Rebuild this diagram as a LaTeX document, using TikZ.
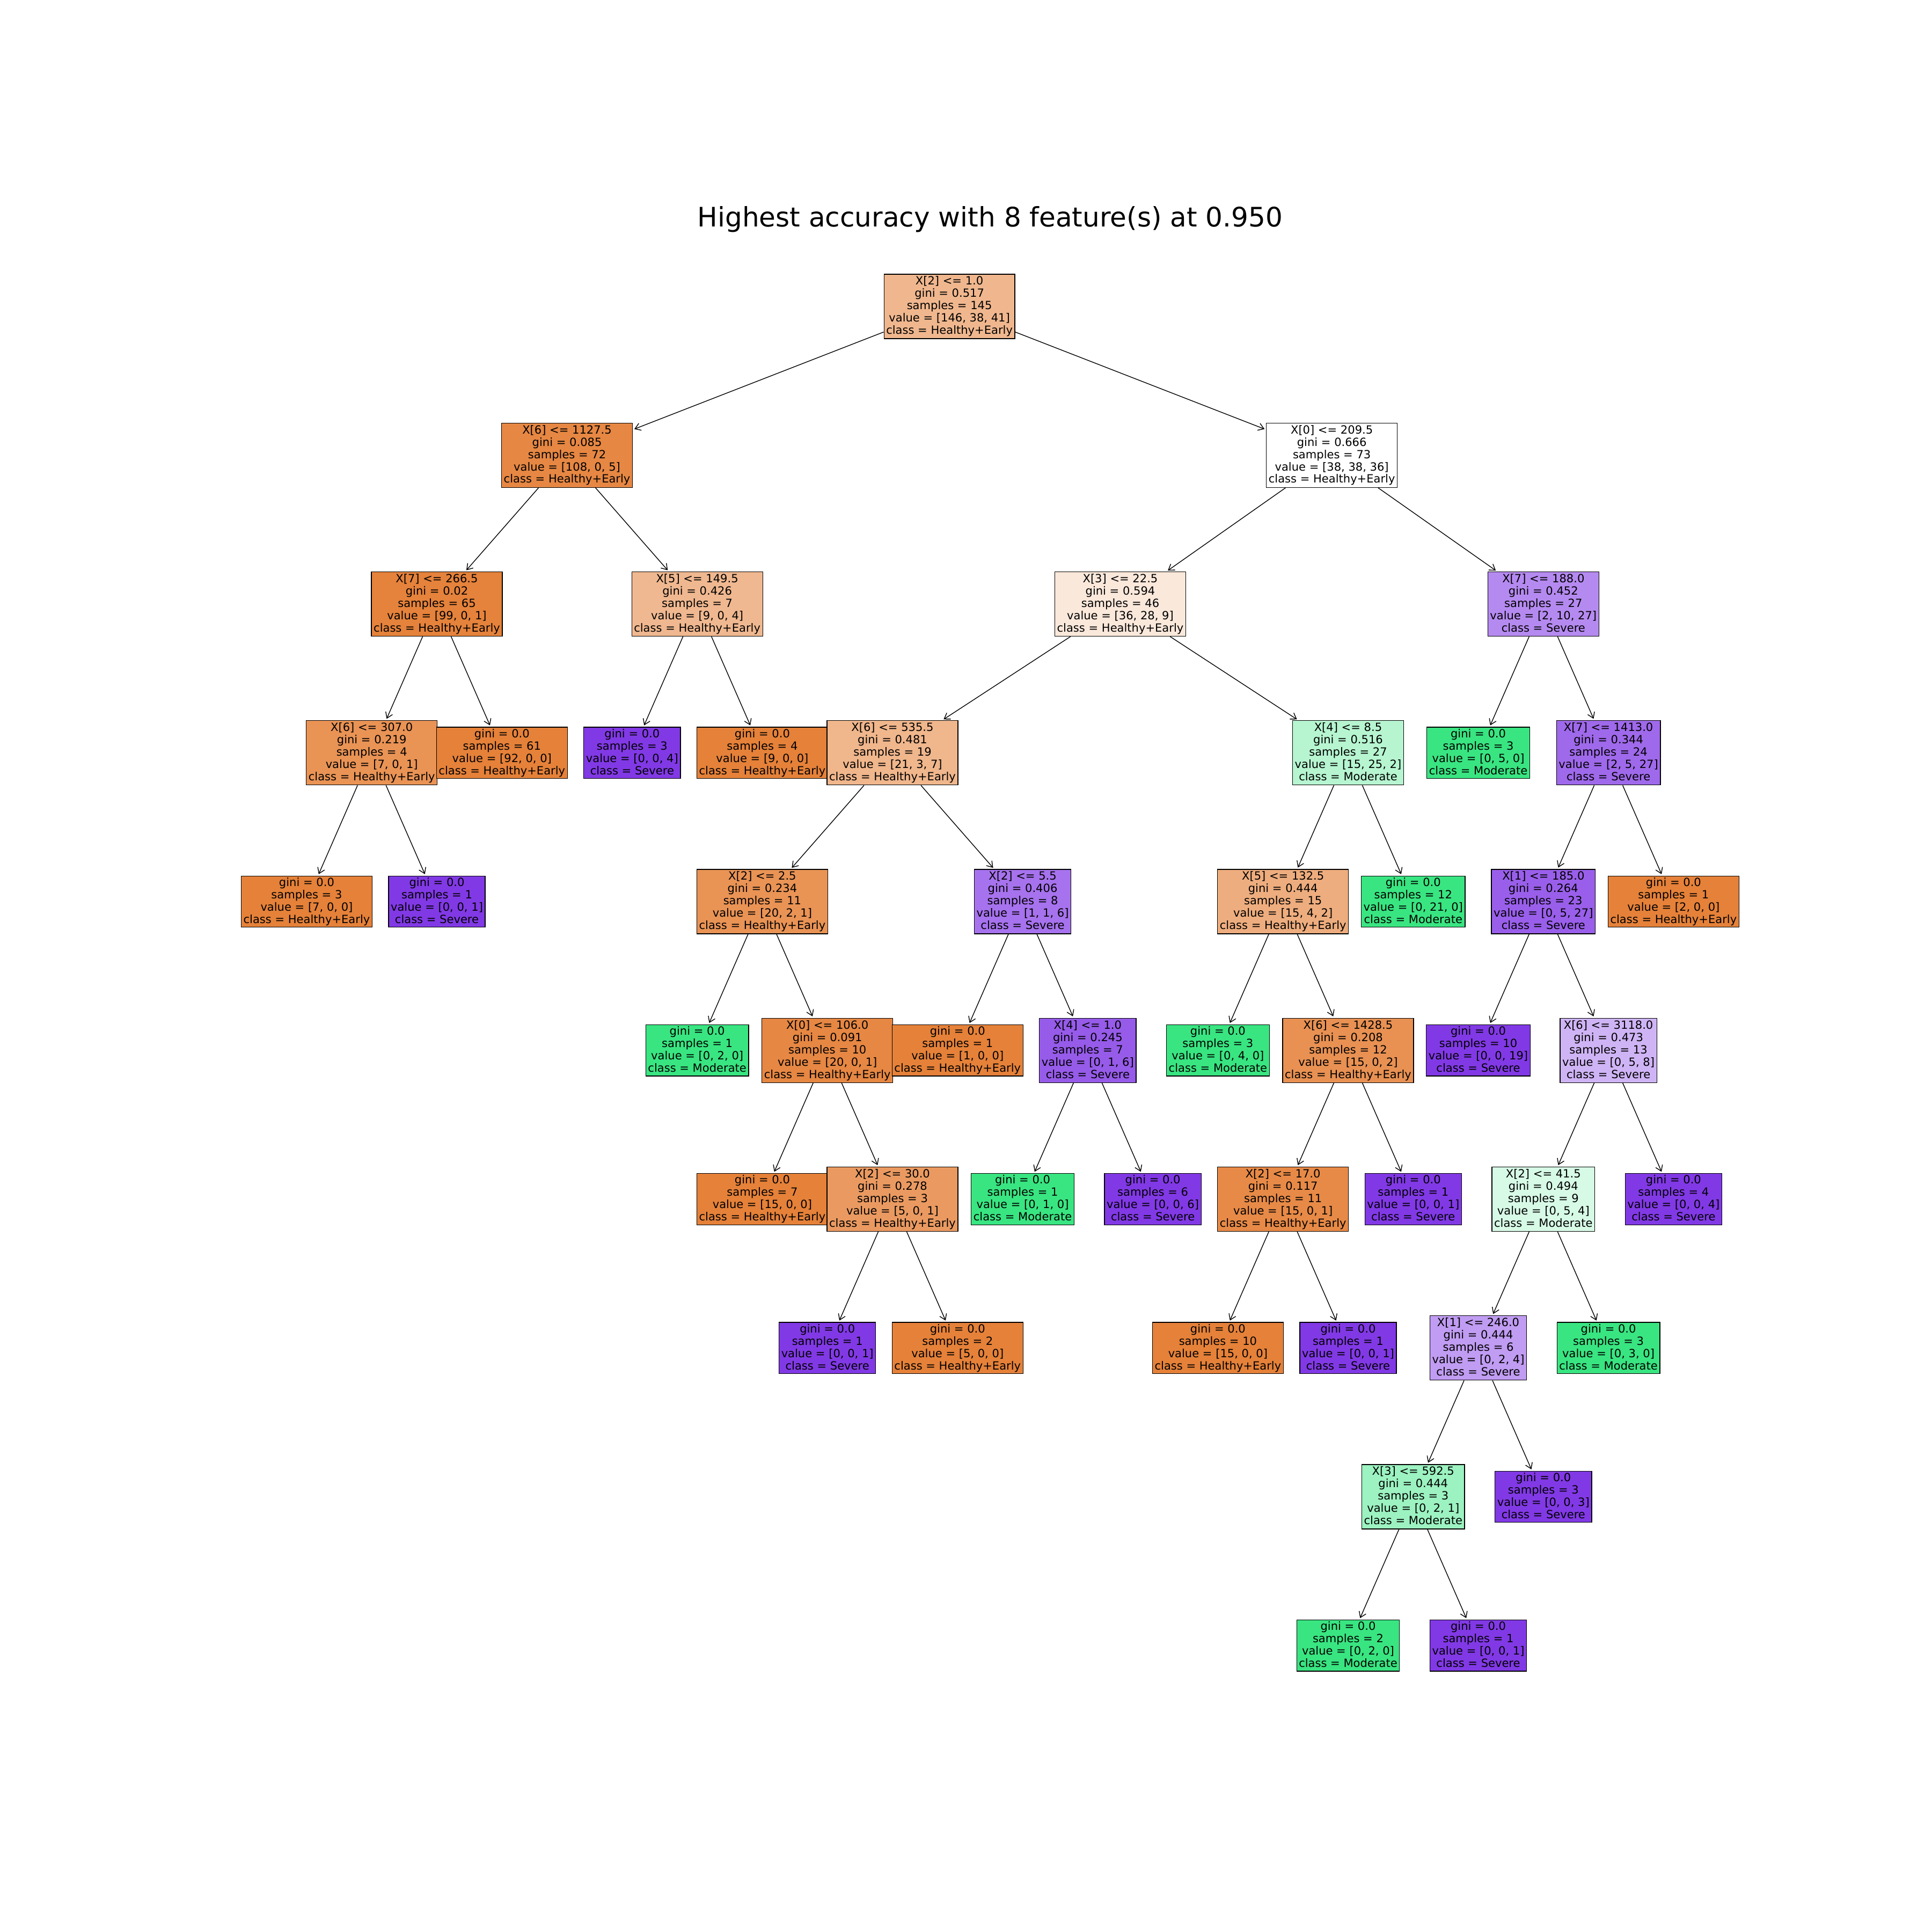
\documentclass[tikz,border=0pt]{standalone}
\usepackage{fontspec}
\setmainfont{DejaVu Sans}
\usepackage{tikz}
\usetikzlibrary{arrows.meta}
\usepackage{xcolor}

\definecolor{orangeC}{RGB}{229,129,57}
\definecolor{greenC}{RGB}{57,229,129}
\definecolor{purpleC}{RGB}{129,57,229}
\newcommand{\treefont}{\fontsize{9.17}{10}\selectfont}
\newcommand{\plottitlefont}{\fontsize{21.8}{26}\selectfont}

\tikzset{
  treebox/.style={draw, line width=0.55pt, align=center, font=\treefont,
    inner xsep=1.8pt, inner ysep=0.8pt,
    execute at begin node={\vphantom{[}}, execute at end node={\vphantom{y}}},
  splitbox/.style={treebox, minimum height=52.3pt},
  leafbox/.style={treebox, minimum height=41.6pt},
  treearrow/.style={-{Straight Barb[length=4.5pt,width=6pt]}, line width=0.6pt, shorten >=1.3pt}
}

\begin{document}
\begin{tikzpicture}[x=52.825pt, y=-120.76pt]
    \useasboundingbox (-4.7118,-2.0594) rectangle (24.971,10.925);

    % Title
    \node[font=\plottitlefont, anchor=base] (title) at (10.499,-0.5366) {Highest accuracy with 8 feature(s) at 0.950};

    % Level 0
    \node[splitbox, fill=orangeC!57] (n0) at (9.875,0) {X[2] <= 1.0\\gini = 0.517\\samples = 145\\value = [146, 38, 41]\\class = Healthy+Early};

    % Level 1
    \node[splitbox, fill=orangeC!95] (n1) at (4,1) {X[6] <= 1127.5\\gini = 0.085\\samples = 72\\value = [108, 0, 5]\\class = Healthy+Early};
    \node[splitbox, fill=white] (n10) at (15.75,1) {X[0] <= 209.5\\gini = 0.666\\samples = 73\\value = [38, 38, 36]\\class = Healthy+Early};

    % Level 2
    \node[splitbox, fill=orangeC!99] (n2) at (2,2) {X[7] <= 266.5\\gini = 0.02\\samples = 65\\value = [99, 0, 1]\\class = Healthy+Early};
    \node[splitbox, fill=orangeC!56] (n7) at (6,2) {X[5] <= 149.5\\gini = 0.426\\samples = 7\\value = [9, 0, 4]\\class = Healthy+Early};
    \node[splitbox, fill=orangeC!18] (n11) at (12.5,2) {X[3] <= 22.5\\gini = 0.594\\samples = 46\\value = [36, 28, 9]\\class = Healthy+Early};
    \node[splitbox, fill=purpleC!59] (n34) at (19,2) {X[7] <= 188.0\\gini = 0.452\\samples = 27\\value = [2, 10, 27]\\class = Severe};

    % Level 3
    \node[splitbox, fill=orangeC!86] (n3) at (1,3) {X[6] <= 307.0\\gini = 0.219\\samples = 4\\value = [7, 0, 1]\\class = Healthy+Early};
    \node[leafbox, fill=orangeC] (n6) at (3,3) {gini = 0.0\\samples = 61\\value = [92, 0, 0]\\class = Healthy+Early};
    \node[leafbox, fill=purpleC] (n8) at (5,3) {gini = 0.0\\samples = 3\\value = [0, 0, 4]\\class = Severe};
    \node[leafbox, fill=orangeC] (n9) at (7,3) {gini = 0.0\\samples = 4\\value = [9, 0, 0]\\class = Healthy+Early};
    \node[splitbox, fill=orangeC!58] (n12) at (9,3) {X[6] <= 535.5\\gini = 0.481\\samples = 19\\value = [21, 3, 7]\\class = Healthy+Early};
    \node[splitbox, fill=greenC!37] (n25) at (16,3) {X[4] <= 8.5\\gini = 0.516\\samples = 27\\value = [15, 25, 2]\\class = Moderate};
    \node[leafbox, fill=greenC] (n35) at (18,3) {gini = 0.0\\samples = 3\\value = [0, 5, 0]\\class = Moderate};
    \node[splitbox, fill=purpleC!76] (n36) at (20,3) {X[7] <= 1413.0\\gini = 0.344\\samples = 24\\value = [2, 5, 27]\\class = Severe};

    % Level 4
    \node[leafbox, fill=orangeC] (n4) at (0,4) {gini = 0.0\\samples = 3\\value = [7, 0, 0]\\class = Healthy+Early};
    \node[leafbox, fill=purpleC] (n5) at (2,4) {gini = 0.0\\samples = 1\\value = [0, 0, 1]\\class = Severe};
    \node[splitbox, fill=orangeC!86] (n13) at (7,4) {X[2] <= 2.5\\gini = 0.234\\samples = 11\\value = [20, 2, 1]\\class = Healthy+Early};
    \node[splitbox, fill=purpleC!71] (n20) at (11,4) {X[2] <= 5.5\\gini = 0.406\\samples = 8\\value = [1, 1, 6]\\class = Severe};
    \node[splitbox, fill=orangeC!65] (n26) at (15,4) {X[5] <= 132.5\\gini = 0.444\\samples = 15\\value = [15, 4, 2]\\class = Healthy+Early};
    \node[leafbox, fill=greenC] (n33) at (17,4) {gini = 0.0\\samples = 12\\value = [0, 21, 0]\\class = Moderate};
    \node[splitbox, fill=purpleC!81] (n37) at (19,4) {X[1] <= 185.0\\gini = 0.264\\samples = 23\\value = [0, 5, 27]\\class = Severe};
    \node[leafbox, fill=orangeC] (n48) at (21,4) {gini = 0.0\\samples = 1\\value = [2, 0, 0]\\class = Healthy+Early};

    % Level 5
    \node[leafbox, fill=greenC] (n14) at (6,5) {gini = 0.0\\samples = 1\\value = [0, 2, 0]\\class = Moderate};
    \node[splitbox, fill=orangeC!95] (n15) at (8,5) {X[0] <= 106.0\\gini = 0.091\\samples = 10\\value = [20, 0, 1]\\class = Healthy+Early};
    \node[leafbox, fill=orangeC] (n21) at (10,5) {gini = 0.0\\samples = 1\\value = [1, 0, 0]\\class = Healthy+Early};
    \node[splitbox, fill=purpleC!83] (n22) at (12,5) {X[4] <= 1.0\\gini = 0.245\\samples = 7\\value = [0, 1, 6]\\class = Severe};
    \node[leafbox, fill=greenC] (n27) at (14,5) {gini = 0.0\\samples = 3\\value = [0, 4, 0]\\class = Moderate};
    \node[splitbox, fill=orangeC!87] (n28) at (16,5) {X[6] <= 1428.5\\gini = 0.208\\samples = 12\\value = [15, 0, 2]\\class = Healthy+Early};
    \node[leafbox, fill=purpleC] (n38) at (18,5) {gini = 0.0\\samples = 10\\value = [0, 0, 19]\\class = Severe};
    \node[splitbox, fill=purpleC!38] (n39) at (20,5) {X[6] <= 3118.0\\gini = 0.473\\samples = 13\\value = [0, 5, 8]\\class = Severe};

    % Level 6
    \node[leafbox, fill=orangeC] (n16) at (7,6) {gini = 0.0\\samples = 7\\value = [15, 0, 0]\\class = Healthy+Early};
    \node[splitbox, fill=orangeC!80] (n17) at (9,6) {X[2] <= 30.0\\gini = 0.278\\samples = 3\\value = [5, 0, 1]\\class = Healthy+Early};
    \node[leafbox, fill=greenC] (n23) at (11,6) {gini = 0.0\\samples = 1\\value = [0, 1, 0]\\class = Moderate};
    \node[leafbox, fill=purpleC] (n24) at (13,6) {gini = 0.0\\samples = 6\\value = [0, 0, 6]\\class = Severe};
    \node[splitbox, fill=orangeC!93] (n29) at (15,6) {X[2] <= 17.0\\gini = 0.117\\samples = 11\\value = [15, 0, 1]\\class = Healthy+Early};
    \node[leafbox, fill=purpleC] (n32) at (17,6) {gini = 0.0\\samples = 1\\value = [0, 0, 1]\\class = Severe};
    \node[splitbox, fill=greenC!20] (n40) at (19,6) {X[2] <= 41.5\\gini = 0.494\\samples = 9\\value = [0, 5, 4]\\class = Moderate};
    \node[leafbox, fill=purpleC] (n47) at (21,6) {gini = 0.0\\samples = 4\\value = [0, 0, 4]\\class = Severe};

    % Level 7
    \node[leafbox, fill=purpleC] (n18) at (8,7) {gini = 0.0\\samples = 1\\value = [0, 0, 1]\\class = Severe};
    \node[leafbox, fill=orangeC] (n19) at (10,7) {gini = 0.0\\samples = 2\\value = [5, 0, 0]\\class = Healthy+Early};
    \node[leafbox, fill=orangeC] (n30) at (14,7) {gini = 0.0\\samples = 10\\value = [15, 0, 0]\\class = Healthy+Early};
    \node[leafbox, fill=purpleC] (n31) at (16,7) {gini = 0.0\\samples = 1\\value = [0, 0, 1]\\class = Severe};
    \node[splitbox, fill=purpleC!50] (n41) at (18,7) {X[1] <= 246.0\\gini = 0.444\\samples = 6\\value = [0, 2, 4]\\class = Severe};
    \node[leafbox, fill=greenC] (n46) at (20,7) {gini = 0.0\\samples = 3\\value = [0, 3, 0]\\class = Moderate};

    % Level 8
    \node[splitbox, fill=greenC!50] (n42) at (17,8) {X[3] <= 592.5\\gini = 0.444\\samples = 3\\value = [0, 2, 1]\\class = Moderate};
    \node[leafbox, fill=purpleC] (n45) at (19,8) {gini = 0.0\\samples = 3\\value = [0, 0, 3]\\class = Severe};

    % Level 9
    \node[leafbox, fill=greenC] (n43) at (16,9) {gini = 0.0\\samples = 2\\value = [0, 2, 0]\\class = Moderate};
    \node[leafbox, fill=purpleC] (n44) at (18,9) {gini = 0.0\\samples = 1\\value = [0, 0, 1]\\class = Severe};

    % Arrows from parent to child
    \foreach \p/\c in {n0/n1, n0/n10, n1/n2, n1/n7, n2/n3, n2/n6, n3/n4, n3/n5,
        n7/n8, n7/n9, n10/n11, n10/n34, n11/n12, n11/n25, n12/n13, n12/n20,
        n13/n14, n13/n15, n15/n16, n15/n17, n17/n18, n17/n19, n20/n21, n20/n22,
        n22/n23, n22/n24, n25/n26, n25/n33, n26/n27, n26/n28, n28/n29, n28/n32,
        n29/n30, n29/n31, n34/n35, n34/n36, n36/n37, n36/n48, n37/n38, n37/n39,
        n39/n40, n39/n47, n40/n41, n40/n46, n41/n42, n41/n45, n42/n43, n42/n44}
      \draw[treearrow] (\p) -- (\c);
\end{tikzpicture}
\end{document}
